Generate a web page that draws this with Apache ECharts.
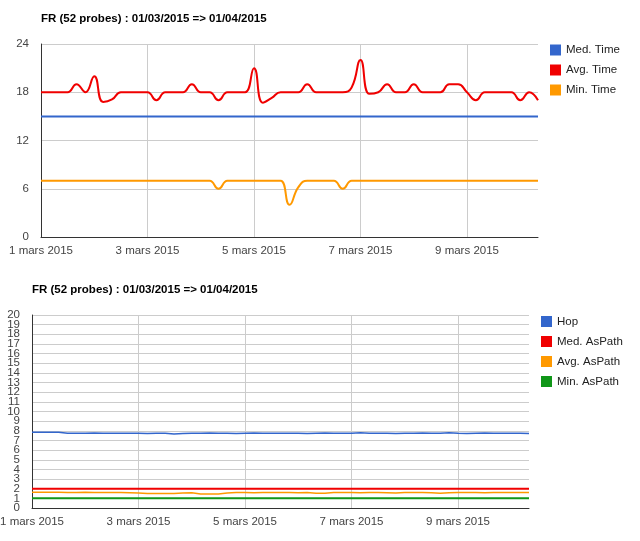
<!DOCTYPE html>
<html><head><meta charset="utf-8">
<script src="https://cdn.jsdelivr.net/npm/echarts@6/dist/echarts.min.js"></script>
<style>html,body{margin:0;padding:0;background:#fff}#c{width:640px;height:541px}</style>
</head><body><div id="c"></div>
<script>
const titleText = 'FR (52 probes) : 01/03/2015 => 01/04/2015';
const monthLabel = 'mars 2015';
const firstDay = 1;
const stepHours = 4;
const spanDays = 9 + 8 / 24;

const legend1 = ['Med. Time', 'Avg. Time', 'Min. Time'];
const legend2 = ['Hop', 'Med. AsPath', 'Avg. AsPath', 'Min. AsPath'];

const medTime = [15,15,15,15,15,15,15,15,15,15, 15,15,15,15,15,15,15,15,15,15, 15,15,15,15,15,15,15,15,15,15, 15,15,15,15,15,15,15,15,15,15, 15,15,15,15,15,15,15,15,15,15, 15,15,15,15,15,15,15];
const avgTime = [18,18,18,18,19,18,20,16.8,17.1,18, 18,18,18,17,18,18,18,19,18,18, 17,18,18,18,21,16.7,17.3,18,18,18, 19,18,18,18,18,18.6,22,17.8,18,19, 18,18,19,18,18,18,19,19,18,17, 18,18,18,18,17,18,17];
const minTime = [7,7,7,7,7,7,7,7,7,7, 7,7,7,7,7,7,7,7,7,7, 6,7,7,7,7,7,7,7,4,6.2, 7,7,7,7,6,7,7,7,7,7, 7,7,7,7,7,7,7,7,7,7, 7,7,7,7,7,7,7];

const hop = [7.85,7.85,7.85,7.85,7.75,7.75,7.75,7.78,7.75,7.75, 7.75,7.75,7.75,7.72,7.75,7.75,7.68,7.72,7.75,7.75, 7.78,7.75,7.75,7.72,7.75,7.78,7.75,7.75,7.75,7.75, 7.75,7.72,7.75,7.78,7.75,7.75,7.75,7.8,7.75,7.75, 7.75,7.72,7.75,7.75,7.78,7.75,7.75,7.8,7.75,7.72, 7.75,7.78,7.75,7.75,7.75,7.75,7.72];
const medAsPath = [2,2,2,2,2,2,2,2,2,2, 2,2,2,2,2,2,2,2,2,2, 2,2,2,2,2,2,2,2,2,2, 2,2,2,2,2,2,2,2,2,2, 2,2,2,2,2,2,2,2,2,2, 2,2,2,2,2,2,2];
const avgAsPath = [1.63,1.63,1.62,1.62,1.6,1.6,1.62,1.6,1.6,1.6, 1.6,1.58,1.55,1.5,1.5,1.5,1.5,1.55,1.58,1.45, 1.45,1.45,1.55,1.6,1.6,1.58,1.6,1.6,1.6,1.6, 1.58,1.6,1.52,1.52,1.6,1.6,1.6,1.58,1.6,1.6, 1.58,1.55,1.6,1.6,1.6,1.58,1.52,1.58,1.6,1.6, 1.6,1.58,1.6,1.6,1.6,1.6,1.6];
const minAsPath = [1,1,1,1,1,1,1,1,1,1, 1,1,1,1,1,1,1,1,1,1, 1,1,1,1,1,1,1,1,1,1, 1,1,1,1,1,1,1,1,1,1, 1,1,1,1,1,1,1,1,1,1, 1,1,1,1,1,1,1];

const FONT = 'Arial, "Liberation Sans", sans-serif';
const pts = arr => arr.map((v, i) => [i * stepHours / 24, v]);

function xAxis(gridIndex) {
  return {
    type: 'value', gridIndex, min: 0, max: spanDays, interval: 2,
    axisLine: { show: true, lineStyle: { color: '#333', width: 1 } },
    axisTick: { show: false },
    axisLabel: {
      color: '#444', fontFamily: FONT, fontSize: 11.5, margin: 8, showMaxLabel: false, hideOverlap: false,
      formatter: v => (Math.abs(v - Math.round(v)) < 1e-6 && Math.round(v) % 2 === 0) ? (Math.round(v) + firstDay) + ' ' + monthLabel : ''
    },
    splitLine: { show: true, showMinLine: false, showMaxLine: false, lineStyle: { color: '#ccc', width: 1 } }
  };
}
function yAxis(gridIndex, max, interval, formatter, extra) {
  return Object.assign({
    type: 'value', gridIndex, min: 0, max, interval, position: 'left',
    axisLine: { show: true, lineStyle: { color: '#333', width: 1 } },
    axisTick: { show: false },
    axisLabel: { color: '#444', fontFamily: FONT, fontSize: 11.5, margin: 12, hideOverlap: false, formatter },
    splitLine: { show: true, lineStyle: { color: '#ccc', width: 1 } }
  }, extra || {});
}
function line(name, data, color, idx, width, smooth) {
  return {
    name, type: 'line', xAxisIndex: idx, yAxisIndex: idx, data: pts(data),
    symbol: 'none', smooth: smooth, lineStyle: { color, width }, itemStyle: { color },
    animation: false
  };
}
const legendCommon = {
  orient: 'vertical', icon: 'rect', itemWidth: 11, itemHeight: 11, itemGap: 8, padding: 0,
  textStyle: { color: '#222', fontFamily: FONT, fontSize: 11.5, lineHeight: 11 }
};
const yMax2 = 20;
const innerLabels = v => (v > 0 && v < yMax2) ? String(v) : '';
const endLabels = v => (v === 0 || v === yMax2) ? String(v) : '';

const chart = echarts.init(document.getElementById('c'));
chart.setOption({
  animation: false,
  backgroundColor: '#fff',
  title: [
    { text: titleText, left: 41, top: 13, padding: 0, textStyle: { color: '#000', fontFamily: FONT, fontSize: 11.5, fontWeight: 'bold' } },
    { text: titleText, left: 32, top: 284, padding: 0, textStyle: { color: '#000', fontFamily: FONT, fontSize: 11.5, fontWeight: 'bold' } }
  ],
  legend: [
    Object.assign({ data: legend1, left: 550, top: 44 }, legendCommon),
    Object.assign({ data: legend2, left: 541, top: 315.5 }, legendCommon)
  ],
  grid: [
    { left: 41, top: 44, width: 497, height: 193, outerBoundsMode: 'none', containLabel: false },
    { left: 32, top: 315, width: 497, height: 193, outerBoundsMode: 'none', containLabel: false }
  ],
  xAxis: [xAxis(0), xAxis(1)],
  yAxis: [
    yAxis(0, 24, 6),
    yAxis(1, yMax2, 1, innerLabels),
    yAxis(1, yMax2, 1, endLabels, { axisLine: { show: false }, splitLine: { show: false }, offset: 0 })
  ],
  series: [
    line(legend1[0], medTime, '#3366cc', 0, 2, false),
    line(legend1[1], avgTime, '#f00000', 0, 2, 0.5),
    line(legend1[2], minTime, '#ff9900', 0, 2, 0.5),
    line(legend2[0], hop, '#3366cc', 1, 1.5, false),
    line(legend2[1], medAsPath, '#f00000', 1, 2, false),
    line(legend2[2], avgAsPath, '#ff9900', 1, 1.5, false),
    line(legend2[3], minAsPath, '#109618', 1, 2, false)
  ]
});
</script>
</body></html>
